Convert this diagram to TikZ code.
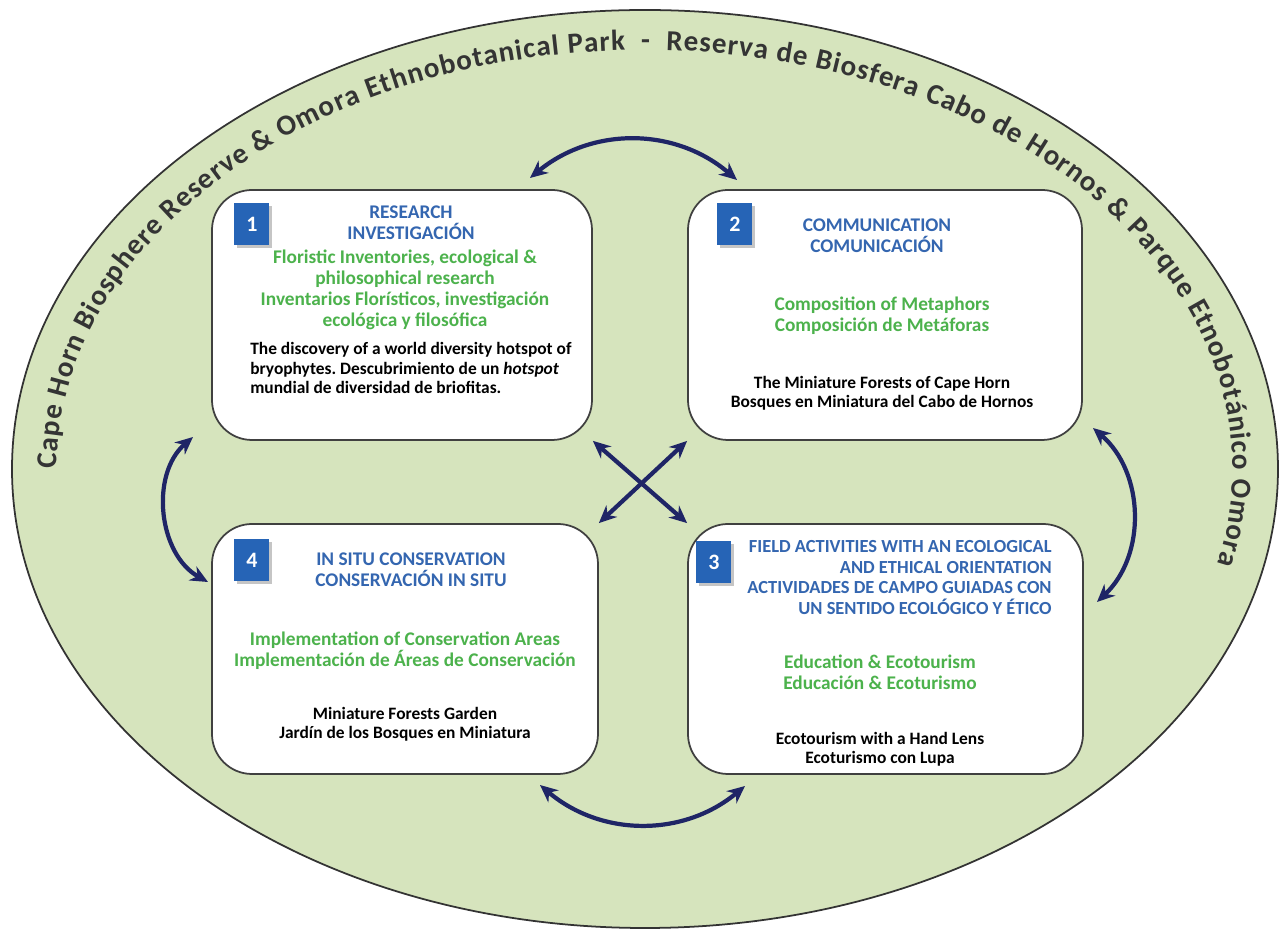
\documentclass[tikz,border=0pt]{standalone}
\usepackage{fontspec}
\setmainfont{Carlito}
\usetikzlibrary{arrows.meta, shapes.geometric, shadows, decorations.text}

\definecolor{parkgreen}{RGB}{214,228,189}
\definecolor{titleblue}{RGB}{52,102,176}
\definecolor{leafgreen}{RGB}{76,178,76}
\definecolor{badgeblue}{RGB}{38,100,182}
\definecolor{arrownavy}{RGB}{31,37,102}
\definecolor{ringgray}{RGB}{52,52,52}

\newcommand{\ringfont}{\fontsize{16.5}{16.5}\selectfont\bfseries}
\frenchspacing

\begin{document}
\begin{tikzpicture}
    % Define styles
    \tikzset{
        park/.style={draw=black!80, line width=1pt, fill=parkgreen, ellipse, minimum width=25.32cm, minimum height=18.36cm, inner sep=0pt},
        stage/.style={draw=black!75, line width=1pt, fill=white, rounded corners=0.8cm, minimum height=5cm, inner sep=0pt},
        badge/.style={fill=badgeblue, text=white, minimum width=0.7cm, minimum height=0.84cm, inner sep=0pt, font=\fontsize{12.5}{12.5}\selectfont\bfseries, drop shadow={shadow xshift=0.05cm, shadow yshift=-0.06cm, fill=black!45}},
        heading/.style={text=titleblue, align=center, inner sep=0pt, font=\fontsize{11}{11.8}\selectfont\bfseries},
        topic/.style={text=leafgreen, align=center, inner sep=0pt, font=\fontsize{11}{12}\selectfont\bfseries},
        casetext/.style={text=black, align=center, inner sep=0pt, font=\fontsize{9.9}{11}\selectfont\bfseries},
        linkarrow/.style={<->, >={Stealth[length=10pt, width=9pt]}, draw=arrownavy, line width=2.4pt}
    }

    \path[use as bounding box, fill=white] (-12.9,-9.36) rectangle (12.72,9.38);

    % Outer reserve
    \node[park] (park) at (0,0) {};
    \path[decorate, decoration={text along path, text align=fit to path, text color=ringgray,
        text={|\ringfont|Cape Horn Biosphere Reserve {\&} Omora Ethnobotanical Park {\ }- {\ }Reserva de Biosfera Cabo de Hornos {\&} Parque Etnobotánico Omora}}]
        (-11.76,0) arc[start angle=180, end angle=-13, x radius=11.76, y radius=8.38];

    % Stage 1: Research
    \node[stage, minimum width=7.6cm] (research) at (-4.86,3.08) {};
    \node[badge] (n1) at (-7.86,4.9) {1};
    \node[heading] (research_head) at (-4.68,4.92) {RESEARCH\\INVESTIGACIÓN};
    \node[topic] (research_topic) at (-4.8,3.59) {Floristic Inventories, ecological \&\\philosophical research\\Inventarios Florísticos, investigación\\ecológica y filosófica};
    \node[casetext, anchor=west, align=left] (research_case) at (-7.9,2.02) {The discovery of a world diversity hotspot of\\bryophytes. Descubrimiento de un \textit{hotspot}\\mundial de diversidad de briofitas.};

    % Stage 2: Communication
    \node[stage, minimum width=7.88cm] (communication) at (4.8,3.08) {};
    \node[badge] (n2) at (1.8,4.9) {2};
    \node[heading] (communication_head) at (4.64,4.66) {COMMUNICATION\\COMUNICACIÓN};
    \node[topic] (communication_topic) at (4.74,3.07) {Composition of Metaphors\\Composición de Metáforas};
    \node[casetext] (communication_case) at (4.74,1.52) {The Miniature Forests of Cape Horn\\Bosques en Miniatura del Cabo de Hornos};

    % Stage 3: Field activities
    \node[stage, minimum width=7.9cm] (field) at (4.81,-3.6) {};
    \node[badge] (n3) at (1.38,-1.86) {3};
    \node[heading, anchor=east, align=right, font=\fontsize{10.5}{11.6}\selectfont\bfseries] (field_head) at (8.14,-2.17) {FIELD ACTIVITIES WITH AN ECOLOGICAL\\AND ETHICAL ORIENTATION\\ACTIVIDADES DE CAMPO GUIADAS CON\\UN SENTIDO ECOLÓGICO Y ÉTICO};
    \node[topic] (field_topic) at (4.7,-4.07) {Education \& Ecotourism\\Educación \& Ecoturismo};
    \node[casetext] (field_case) at (4.7,-5.6) {Ecotourism with a Hand Lens\\Ecoturismo con Lupa};

    % Stage 4: In situ conservation
    \node[stage, minimum width=7.72cm] (conservation) at (-4.8,-3.6) {};
    \node[badge] (n4) at (-7.86,-1.82) {4};
    \node[heading] (conservation_head) at (-4.68,-2.02) {IN SITU CONSERVATION\\CONSERVACIÓN IN SITU};
    \node[topic] (conservation_topic) at (-4.8,-3.63) {Implementation of Conservation Areas\\Implementación de Áreas de Conservación};
    \node[casetext] (conservation_case) at (-4.8,-5.11) {Miniature Forests Garden\\Jardín de los Bosques en Miniatura};

    % Cycle arrows
    \coordinate (top_a) at (-2.3,5.82);
    \coordinate (top_b) at (1.84,5.78);
    \coordinate (bottom_a) at (-2.1,-6.32);
    \coordinate (bottom_b) at (2.0,-6.34);
    \coordinate (left_a) at (-9.04,0.64);
    \coordinate (left_b) at (-8.74,-2.26);
    \coordinate (right_a) at (8.96,0.82);
    \coordinate (right_b) at (9.04,-2.66);
    \draw[linkarrow] (top_a) to[bend left=40] (top_b);
    \draw[linkarrow] (bottom_a) to[bend right=40] (bottom_b);
    \draw[linkarrow] (left_a) to[bend right=55] (left_b);
    \draw[linkarrow] (right_a) to[bend left=48] (right_b);

    % Crossing arrows
    \draw[linkarrow] (research.south east) -- (field.north west);
    \draw[linkarrow] (communication.south west) -- (conservation.north east);

\end{tikzpicture}
\end{document}
